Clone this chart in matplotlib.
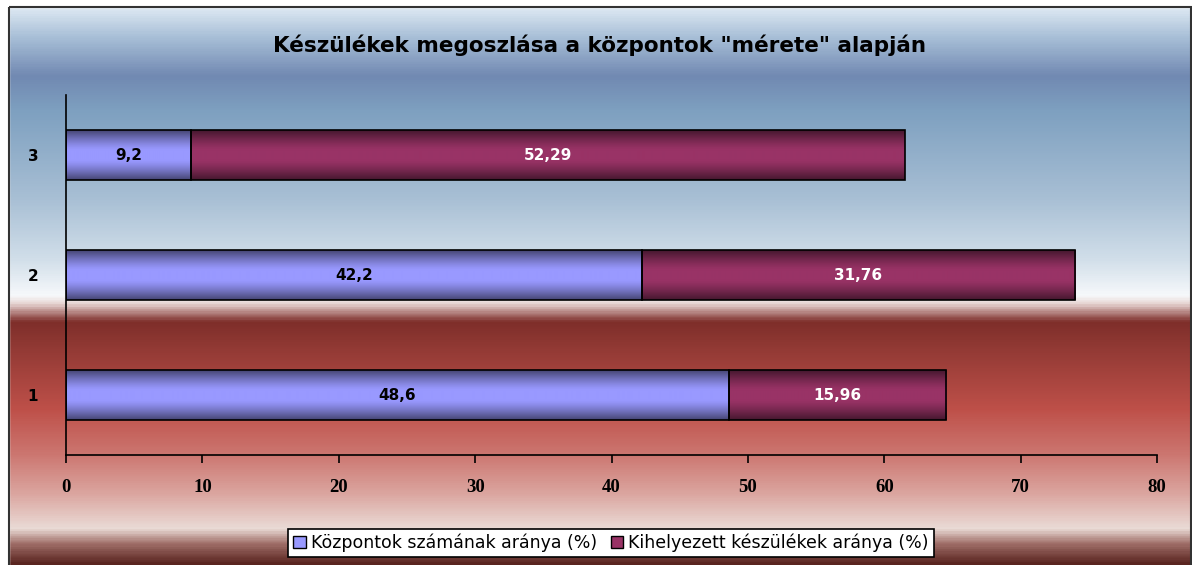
import numpy as np
import matplotlib.pyplot as plt
from matplotlib.colors import LinearSegmentedColormap, to_rgb
from matplotlib.patches import Rectangle, Patch

# Data
categories = ['1', '2', '3']
kozpontok = [48.6, 42.2, 9.2]
keszulekek = [15.96, 31.76, 52.29]
series_names = ['Központok számának aránya (%)', 'Kihelyezett készülékek aránya (%)']
title = 'Készülékek megoszlása a központok "mérete" alapján'
xticks = [0, 10, 20, 30, 40, 50, 60, 70, 80]

W, H = 1192, 565
fig = plt.figure(figsize=(W / 100, H / 100), dpi=100)

# background gradient (pixel coordinates, top to bottom)
bg = fig.add_axes([0, 0, 1, 1], zorder=-10)
stops = [(0, '#ffffff'), (8, '#dae6f1'), (35, '#a9c0d8'), (75, '#7189b2'),
         (110, '#7ea0c0'), (200, '#a9c0d5'), (260, '#d2dfea'), (296, '#f7f9fb'),
         (304, '#e6d3d1'), (322, '#7e2e2a'), (350, '#933a35'), (410, '#be5049'),
         (455, '#cc7670'), (495, '#dba6a0'), (530, '#eadbd6'), (545, '#a06f69'),
         (565, '#5a2520')]
cmap_bg = LinearSegmentedColormap.from_list('bg', [(p / H, c) for p, c in stops])
grad = np.linspace(0, 1, 600).reshape(-1, 1)
bg.imshow(grad, cmap=cmap_bg, aspect='auto', extent=[0, W, H, 0], interpolation='bilinear')
bg.add_patch(Rectangle((0, 0), 9, H, color='white'))
bg.add_patch(Rectangle((0, 0), W, 7, color='white'))
bg.add_patch(Rectangle((9, 7), W - 10, H, fill=False, edgecolor='#333333', lw=1.5))
bg.set_xlim(0, W)
bg.set_ylim(H, 0)
bg.axis('off')

ax = fig.add_axes([66 / W, 1 - 455 / H, (1157 - 66) / W, (455 - 95) / H])
ax.patch.set_visible(False)

y = np.arange(1, len(categories) + 1)
bar_h = 0.41


def shaded(color):
    c = np.array(to_rgb(color))
    dark = c * 0.45
    t = np.clip(np.abs(np.linspace(-1, 1, 100)) * 1.25 - 0.25, 0, 1) ** 1.3
    rows = dark[None, :] * t[:, None] + c[None, :] * (1 - t[:, None])
    return rows.reshape(-1, 1, 3)


def gradient_bars(left, width, color):
    bars = ax.barh(y, width, left=left, height=bar_h, facecolor='none',
                   edgecolor='black', linewidth=1.2, zorder=3)
    img = shaded(color)
    for b in bars:
        x0, y0 = b.get_x(), b.get_y()
        im = ax.imshow(img, aspect='auto', extent=[x0, x0 + b.get_width(), y0, y0 + b.get_height()],
                       zorder=2, interpolation='bilinear')
        im.set_clip_path(b)
    return bars


blue, maroon = '#9999ff', '#993366'
gradient_bars(0, kozpontok, blue)
gradient_bars(kozpontok, keszulekek, maroon)

for yi, a, b in zip(y, kozpontok, keszulekek):
    ax.text(a / 2, yi, f'{a:g}'.replace('.', ','), ha='center', va='center',
            fontsize=11, fontweight='bold', color='black', zorder=4)
    ax.text(a + b / 2, yi, f'{b:g}'.replace('.', ','), ha='center', va='center',
            fontsize=11, fontweight='bold', color='white', zorder=4)

ax.set_xlim(0, 80)
ax.set_ylim(0.5, 3.5)
ax.set_xticks(xticks)
ax.set_yticks(y)
ax.set_yticklabels(categories)
for s in ['top', 'right']:
    ax.spines[s].set_visible(False)
for s in ['left', 'bottom']:
    ax.spines[s].set_linewidth(1.2)
ax.tick_params(axis='x', direction='out', length=6, width=1.2, pad=11)
ax.tick_params(axis='y', length=0, pad=20)
for lbl in ax.get_xticklabels():
    lbl.set_fontfamily('Liberation Serif')
    lbl.set_fontweight('bold')
    lbl.set_fontsize(13.5)
for lbl in ax.get_yticklabels():
    lbl.set_fontweight('bold')
    lbl.set_fontsize(11)

fig.text(0.503, 1 - 45 / H, title, ha='center', va='center', fontsize=15.5, fontweight='bold')

handles = [Patch(facecolor=blue, edgecolor='black'), Patch(facecolor=maroon, edgecolor='black')]
leg = fig.legend(handles, series_names, loc='center', bbox_to_anchor=(611 / W, 1 - 543 / H),
                 ncol=2, fontsize=12.5, frameon=True, fancybox=False, edgecolor='black',
                 framealpha=1, handlelength=0.7, handleheight=0.7, handletextpad=0.3,
                 columnspacing=0.8, borderpad=0.3)
leg.get_frame().set_linewidth(1.2)

fig.savefig('out.png', dpi=100)
